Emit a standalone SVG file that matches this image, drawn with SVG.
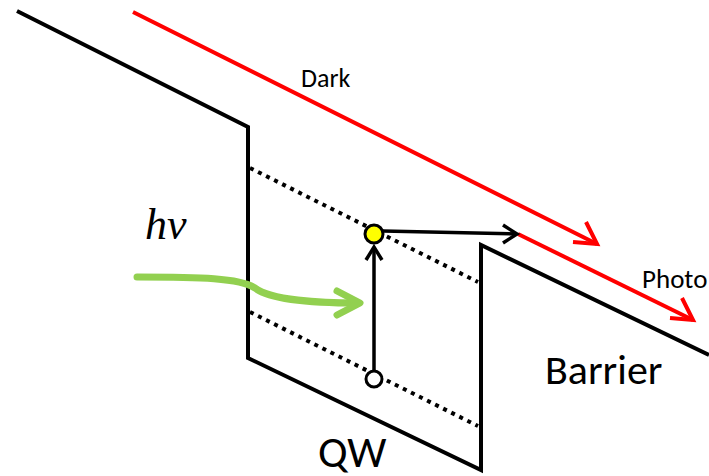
<svg xmlns="http://www.w3.org/2000/svg" width="709" height="476" viewBox="0 0 709 476">
<style>
.band{fill:none;stroke:#000;stroke-width:4;stroke-linejoin:miter}
.dot{fill:none;stroke:#000;stroke-width:4;stroke-dasharray:4 5}
.red{fill:none;stroke:#FF0000;stroke-width:4}
.blk{fill:none;stroke:#000;stroke-width:3.5}
.t{font-family:Calibri,Carlito,"Liberation Sans",Arial,sans-serif;fill:#000}
</style>
<rect width="709" height="476" fill="#fff"/>
<g id="band">
<polyline class="band" points="17,11 248,127 248,358 481,470 481,245 709,355"/>
</g>
<g id="levels">
<line class="dot" x1="250" y1="168" x2="478" y2="282"/>
<line class="dot" x1="250" y1="312" x2="478" y2="426"/>
</g>
<g id="connectors">
<line class="red" x1="133" y1="12" x2="597" y2="244"/>
<polyline class="red" points="573,242 597,244 586,222"/>
<line class="red" x1="518" y1="234" x2="693" y2="320"/>
<polyline class="red" points="670,318 693,320 682,298"/>
<line class="blk" x1="383" y1="231" x2="517" y2="234"/>
<polyline class="blk" points="503,225 517,234 503,243"/>
<line class="blk" x1="374" y1="371" x2="374" y2="247"/>
<polyline class="blk" points="366,260 374,247 382,260"/>
<path d="M137,277 C200,277 240,278 255,288 C270,300 320,303 358,303" fill="none" stroke="#92D050" stroke-width="7" stroke-linecap="round"/>
<polyline points="337,291 360,303 337,315" fill="none" stroke="#92D050" stroke-width="7" stroke-linecap="round" stroke-linejoin="round"/>
</g>
<g id="electron">
<circle cx="374" cy="234" r="9" fill="#FFFF00" stroke="#000" stroke-width="3"/>
</g>
<g id="hole">
<circle cx="374" cy="379" r="8" fill="#fff" stroke="#000" stroke-width="3"/>
</g>
<g id="labels">
<text class="t" x="301" y="87" font-size="26">Dark</text>
<text class="t" x="642" y="288" font-size="27">Photo</text>
<text class="t" x="545" y="384" font-size="42">Barrier</text>
<text class="t" x="318" y="467" font-size="44">QW</text>
<text x="145" y="239" font-size="44" font-style="italic" font-family="'Liberation Serif','DejaVu Serif',serif">hν</text>
</g>
</svg>
